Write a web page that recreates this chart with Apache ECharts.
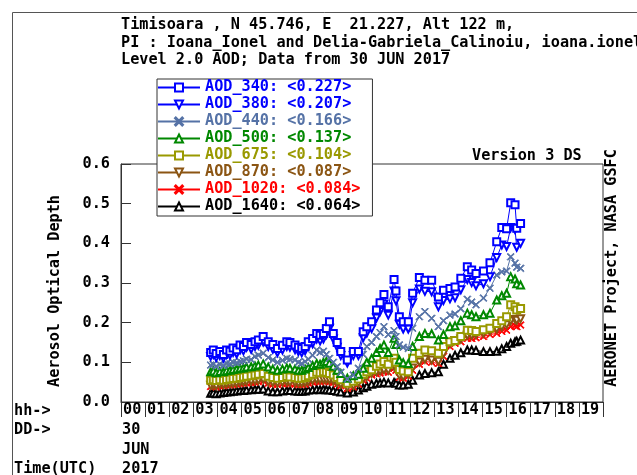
<!DOCTYPE html>
<html><head><meta charset="utf-8">
<script src="https://cdn.jsdelivr.net/npm/echarts@6/dist/echarts.min.js"></script>
<style>html,body{margin:0;padding:0;background:#fff}#c{width:637px;height:475px}</style>
</head><body><div id="c"></div>
<script>
const hours = [3.72,3.83,3.95,4.1,4.25,4.38,4.52,4.65,4.8,4.94,5.08,5.21,5.4,5.56,5.7,5.9,6.11,6.3,6.49,6.7,6.88,7.01,7.22,7.36,7.5,7.64,7.77,7.95,8.12,8.26,8.4,8.52,8.65,8.81,8.97,9.12,9.39,9.64,9.85,10.05,10.2,10.4,10.6,10.75,10.91,11.09,11.33,11.41,11.55,11.71,11.92,12.1,12.38,12.61,12.89,13.17,13.38,13.65,13.86,14.1,14.37,14.55,14.73,15.04,15.31,15.59,15.8,16.0,16.17,16.35,16.42,16.58];
const aod340 = [0.125,0.131,0.122,0.127,0.12,0.131,0.128,0.136,0.132,0.144,0.14,0.15,0.145,0.152,0.156,0.165,0.152,0.145,0.135,0.143,0.152,0.15,0.144,0.138,0.135,0.14,0.152,0.16,0.173,0.168,0.173,0.185,0.202,0.173,0.15,0.127,0.106,0.127,0.127,0.177,0.19,0.202,0.232,0.25,0.271,0.24,0.309,0.28,0.215,0.202,0.202,0.274,0.314,0.307,0.307,0.265,0.282,0.286,0.29,0.312,0.341,0.333,0.324,0.33,0.351,0.404,0.44,0.437,0.502,0.497,0.438,0.45];
const aod380 = [0.115,0.12,0.112,0.117,0.11,0.12,0.118,0.125,0.121,0.132,0.129,0.138,0.133,0.14,0.143,0.151,0.14,0.133,0.124,0.131,0.14,0.138,0.132,0.127,0.124,0.129,0.14,0.147,0.159,0.154,0.159,0.17,0.186,0.159,0.138,0.117,0.098,0.117,0.117,0.162,0.174,0.185,0.212,0.228,0.247,0.219,0.28,0.255,0.196,0.184,0.184,0.25,0.285,0.279,0.278,0.24,0.256,0.26,0.263,0.283,0.309,0.301,0.293,0.298,0.316,0.364,0.396,0.392,0.44,0.435,0.39,0.40];
const aod440 = [0.093,0.095,0.09,0.095,0.092,0.097,0.096,0.1,0.099,0.102,0.104,0.108,0.107,0.115,0.118,0.123,0.112,0.106,0.1,0.105,0.11,0.108,0.106,0.1,0.097,0.102,0.108,0.118,0.131,0.125,0.128,0.12,0.11,0.1,0.089,0.075,0.058,0.068,0.085,0.12,0.14,0.15,0.165,0.175,0.19,0.17,0.18,0.165,0.144,0.138,0.135,0.186,0.215,0.228,0.211,0.19,0.205,0.219,0.222,0.235,0.259,0.252,0.245,0.262,0.287,0.32,0.328,0.33,0.366,0.35,0.34,0.337];
const aod500 = [0.076,0.078,0.074,0.077,0.076,0.079,0.08,0.082,0.083,0.085,0.086,0.088,0.089,0.091,0.093,0.096,0.088,0.083,0.08,0.083,0.086,0.085,0.083,0.08,0.08,0.083,0.087,0.092,0.097,0.095,0.1,0.102,0.098,0.09,0.08,0.072,0.06,0.066,0.07,0.085,0.1,0.11,0.125,0.135,0.144,0.125,0.161,0.145,0.106,0.099,0.097,0.14,0.165,0.173,0.172,0.156,0.17,0.19,0.192,0.205,0.224,0.22,0.215,0.22,0.224,0.257,0.268,0.274,0.316,0.31,0.298,0.295];
const aod675 = [0.055,0.056,0.054,0.056,0.055,0.057,0.058,0.059,0.06,0.062,0.063,0.065,0.066,0.068,0.07,0.072,0.065,0.062,0.06,0.062,0.064,0.063,0.062,0.06,0.06,0.062,0.066,0.07,0.075,0.074,0.076,0.075,0.072,0.068,0.062,0.056,0.047,0.052,0.058,0.07,0.076,0.081,0.09,0.096,0.102,0.095,0.11,0.1,0.082,0.078,0.076,0.11,0.123,0.131,0.129,0.123,0.14,0.152,0.155,0.165,0.181,0.18,0.178,0.182,0.186,0.198,0.205,0.215,0.245,0.24,0.232,0.236];
const aod870 = [0.042,0.043,0.041,0.044,0.044,0.046,0.046,0.047,0.048,0.05,0.051,0.052,0.053,0.054,0.055,0.057,0.051,0.049,0.048,0.05,0.051,0.05,0.049,0.048,0.048,0.049,0.052,0.055,0.057,0.056,0.057,0.057,0.056,0.053,0.049,0.045,0.037,0.041,0.048,0.059,0.064,0.072,0.076,0.078,0.081,0.08,0.09,0.085,0.067,0.064,0.069,0.086,0.101,0.108,0.106,0.103,0.122,0.147,0.155,0.159,0.168,0.168,0.17,0.173,0.179,0.184,0.19,0.195,0.205,0.208,0.206,0.21];
const aod1020 = [0.039,0.04,0.038,0.041,0.041,0.043,0.043,0.044,0.045,0.046,0.047,0.048,0.049,0.05,0.051,0.053,0.047,0.045,0.044,0.046,0.047,0.046,0.045,0.044,0.044,0.045,0.048,0.05,0.052,0.051,0.052,0.052,0.051,0.049,0.045,0.041,0.034,0.038,0.045,0.055,0.06,0.068,0.071,0.073,0.076,0.075,0.085,0.08,0.062,0.06,0.065,0.08,0.095,0.102,0.1,0.097,0.115,0.14,0.148,0.152,0.16,0.16,0.162,0.165,0.17,0.173,0.178,0.181,0.19,0.192,0.19,0.194];
const aod1640 = [0.022,0.023,0.021,0.023,0.024,0.025,0.026,0.027,0.028,0.029,0.029,0.03,0.031,0.032,0.032,0.033,0.028,0.026,0.026,0.028,0.029,0.029,0.028,0.027,0.027,0.028,0.03,0.031,0.032,0.031,0.032,0.031,0.03,0.029,0.027,0.025,0.023,0.025,0.03,0.036,0.04,0.045,0.047,0.048,0.05,0.048,0.049,0.047,0.043,0.043,0.045,0.055,0.068,0.072,0.074,0.076,0.095,0.11,0.118,0.124,0.131,0.131,0.13,0.127,0.127,0.128,0.134,0.14,0.148,0.152,0.153,0.156];

const seriesNames = ['AOD_340','AOD_380','AOD_440','AOD_500','AOD_675','AOD_870','AOD_1020','AOD_1640'];
const legendMeans = ['0.227','0.207','0.166','0.137','0.104','0.087','0.084','0.064'];
const xTickLabels = ['00','01','02','03','04','05','06','07','08','09','10','11','12','13','14','15','16','17','18','19'];
const titleLines = ['Timisoara , N 45.746, E  21.227, Alt 122 m,',
  'PI : Ioana_Ionel and Delia-Gabriela_Calinoiu, ioana.ionel@upt.ro',
  'Level 2.0 AOD; Data from 30 JUN 2017'];

const allValues = [aod340, aod380, aod440, aod500, aod675, aod870, aod1020, aod1640];
const colors = ['#0000ff','#0000ff','#5572a6','#008800','#999900','#8b5513','#ff0000','#000000'];
const X_PATH = 'path://M0,1L1,0L5,4L9,0L10,1L6,5L10,9L9,10L5,6L1,10L0,9L4,5Z';
const symbols = ['emptyRect','emptyTriangle',X_PATH,'emptyTriangle','emptyRect','emptyTriangle',X_PATH,'emptyTriangle'];
const rotations = [0,180,0,0,0,180,0,0];

const FF = 'DejaVu Sans Mono';
const FS = 15.2;
const font = 'bold ' + FS + 'px "DejaVu Sans Mono"';

const chart = echarts.init(document.getElementById('c'), null, {renderer:'canvas'});

const series = seriesNames.map((n, i) => ({
  name: n, type: 'line',
  data: hours.map((h, j) => [h, allValues[i][j]]),
  symbol: symbols[i], symbolSize: 7, symbolRotate: rotations[i],
  lineStyle: {color: colors[i], width: 1},
  itemStyle: {color: colors[i], borderColor: colors[i], borderWidth: 1},
  emphasis: {disabled: true},
  z: 10 - i
}));

function txt(text, x, y, extra) {
  return Object.assign({type:'text', x:x, y:y, silent:true,
    style:{text:text, font:font, fill:'#000', textAlign:'left', textVerticalAlign:'middle'}}, extra || {});
}

const graphics = [
  {type:'polyline', silent:true, shape:{points:[[12.5,475],[12.5,12.5],[637,12.5]]}, style:{stroke:'#555', lineWidth:1, fill:null}},
  txt(titleLines[0], 121, 25.5),
  txt(titleLines[1], 121, 43),
  txt(titleLines[2], 121, 60.5),
  txt('Version 3 DS', 472, 156),
  {type:'text', x:612, y:268, rotation:Math.PI/2, silent:true,
    style:{text:'AERONET Project, NASA GSFC', font:font, fill:'#000', textAlign:'center', textVerticalAlign:'middle'}},
  {type:'text', x:55, y:291, rotation:Math.PI/2, silent:true,
    style:{text:'Aerosol Optical Depth', font:font, fill:'#000', textAlign:'center', textVerticalAlign:'middle'}},
  txt('hh->', 14, 411),
  txt('DD->', 14, 430),
  txt('30', 122, 430),
  txt('JUN', 122, 450),
  txt('Time(UTC)', 14, 469),
  txt('2017', 122, 469)
];

chart.setOption({
  animation: false,
  backgroundColor: '#fff',
  grid: {left:121, top:164, right:34, bottom:73, show:true, borderColor:'#333', borderWidth:1, containLabel:false},
  xAxis: {
    type:'value', min:0, max:20, interval:1,
    axisLine:{show:true, onZero:false, lineStyle:{color:'#333', width:1}},
    axisTick:{show:true, inside:false, length:15, lineStyle:{color:'#333'}},
    axisLabel:{margin:1, align:'left', padding:[0,0,0,2], color:'#000', fontFamily:FF, fontWeight:'bold', fontSize:FS,
      formatter: v => (v < 20 ? xTickLabels[Math.round(v)] : '')},
    splitLine:{show:false}
  },
  yAxis: {
    type:'value', min:0, max:0.6, interval:0.1,
    axisLine:{show:true, lineStyle:{color:'#333', width:1}},
    axisTick:{show:true, inside:true, length:10, lineStyle:{color:'#333'}},
    axisLabel:{margin:11, color:'#000', fontFamily:FF, fontWeight:'bold', fontSize:FS, formatter: v => v.toFixed(1)},
    splitLine:{show:false}
  },
  legend: {
    orient:'vertical', left:157, top:79, padding:[1,12,2,0], itemGap:2, itemWidth:42, itemHeight:10,
    backgroundColor:'#fff', borderColor:'#333', borderWidth:1, selectedMode:false,
    textStyle:{fontFamily:FF, fontWeight:'bold', fontSize:FS, lineHeight:15},
    formatter: name => name + ': <' + legendMeans[seriesNames.indexOf(name)] + '>',
    data: seriesNames.map((n, i) => ({name:n, textStyle:{color:colors[i]}}))
  },
  graphic: graphics,
  series: series
});
</script></body></html>
